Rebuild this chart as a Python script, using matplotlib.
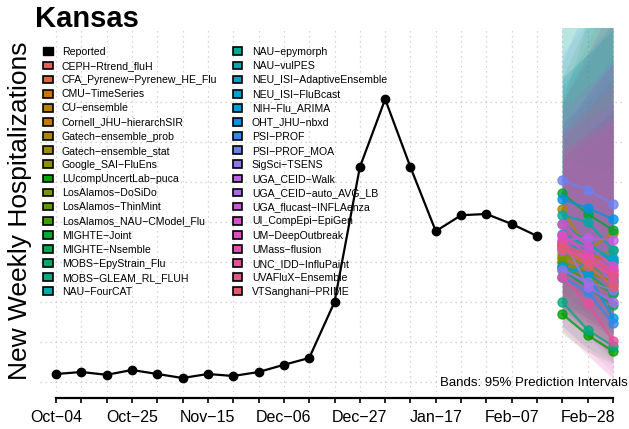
import numpy as np
import matplotlib
matplotlib.use("Agg")
import matplotlib.pyplot as plt
from matplotlib.patches import Patch
from matplotlib import rcParams

rcParams.update({
    "font.family": ["Liberation Sans", "DejaVu Sans"],
    "axes.unicode_minus": True,
})

# reported weekly hospitalizations (Oct-04 ... Feb-14)
reported = [20, 25, 18, 30, 20, 10, 20, 15, 25, 43, 60, 200, 537, 707, 537,
            377, 417, 420, 395, 365]
reported_weeks = list(range(len(reported)))
forecast_weeks = [20, 21, 22]

tick_weeks = [0, 3, 6, 9, 12, 15, 18, 21]
tick_labels = ["Oct\u221204", "Oct\u221225", "Nov\u221215", "Dec\u221206",
               "Dec\u221227", "Jan\u221217", "Feb\u221207", "Feb\u221228"]

models = [
    "CEPH-Rtrend_fluH", "CFA_Pyrenew-Pyrenew_HE_Flu", "CMU-TimeSeries",
    "CU-ensemble", "Cornell_JHU-hierarchSIR", "Gatech-ensemble_prob",
    "Gatech-ensemble_stat", "Google_SAI-FluEns", "LUcompUncertLab-puca",
    "LosAlamos-DoSiDo", "LosAlamos-ThinMint", "LosAlamos_NAU-CModel_Flu",
    "MIGHTE-Joint", "MIGHTE-Nsemble", "MOBS-EpyStrain_Flu",
    "MOBS-GLEAM_RL_FLUH", "NAU-FourCAT", "NAU-epymorph", "NAU-vulPES",
    "NEU_ISI-AdaptiveEnsemble", "NEU_ISI-FluBcast", "NIH-Flu_ARIMA",
    "OHT_JHU-nbxd", "PSI-PROF", "PSI-PROF_MOA", "SigSci-TSENS",
    "UGA_CEID-Walk", "UGA_CEID-auto_AVG_LB", "UGA_flucast-INFLAenza",
    "UI_CompEpi-EpiGen", "UM-DeepOutbreak", "UMass-flusion",
    "UNC_IDD-InfluPaint", "UVAFluX-Ensemble", "VTSanghani-PRIME",
]

# medians for the 3 forecast weeks, same order as models
median = [
    [330, 300, 270], [350, 310, 280], [340, 320, 300], [310, 280, 250],
    [300, 260, 230], [432, 330, 372], [312, 300, 330], [340, 290, 260],
    [170, 117, 77], [320, 290, 240], [300, 275, 250], [290, 255, 222],
    [472, 420, 380], [280, 237, 192], [287, 272, 222], [200, 130, 90],
    [417, 400, 330], [395, 350, 300], [370, 340, 310], [262, 300, 255],
    [345, 330, 305], [287, 270, 160], [457, 435, 407], [262, 225, 147],
    [505, 480, 445], [280, 250, 230], [355, 360, 355], [365, 237, 200],
    [330, 310, 250], [395, 340, 290], [367, 320, 280], [350, 310, 270],
    [262, 197, 102], [340, 300, 265], [335, 290, 240],
]
# 95% interval bounds
lower = [
    [200, 160, 120], [230, 170, 130], [250, 200, 160], [200, 150, 110],
    [180, 130, 90], [300, 210, 200], [220, 180, 180], [260, 200, 160],
    [120, 75, 45], [220, 170, 120], [200, 160, 120], [180, 140, 100],
    [340, 280, 230], [180, 130, 90], [190, 160, 110], [140, 85, 50],
    [300, 270, 200], [250, 200, 150], [200, 160, 120], [180, 180, 140],
    [250, 220, 190], [170, 130, 60], [330, 290, 250], [160, 120, 60],
    [350, 300, 260], [190, 150, 120], [250, 220, 190], [270, 150, 110],
    [220, 180, 130], [140, 80, 25], [125, 65, 10], [170, 110, 50],
    [130, 70, 5], [190, 130, 70], [180, 120, 60],
]
upper = [
    [620, 720, 820], [700, 820, 950], [560, 620, 680], [600, 700, 800],
    [720, 850, 980], [650, 700, 760], [520, 580, 640], [760, 900, 1050],
    [320, 300, 280], [600, 680, 760], [560, 620, 680], [700, 800, 900],
    [760, 820, 880], [1100, 1300, 1500], [700, 900, 1100], [420, 400, 380],
    [740, 820, 900], [1050, 1250, 1450], [800, 950, 1100], [520, 600, 680],
    [640, 720, 800], [1200, 1400, 1600], [760, 820, 880], [580, 640, 700],
    [820, 900, 980], [540, 600, 660], [700, 820, 940], [560, 540, 520],
    [640, 720, 800], [680, 740, 800], [620, 660, 700], [580, 620, 660],
    [560, 600, 640], [620, 680, 740], [580, 620, 660],
]


def hcl_to_hex(h, c, l):
    # polarLUV -> sRGB
    hr = np.deg2rad(h)
    u, v = c * np.cos(hr), c * np.sin(hr)
    xn, yn, zn = 95.047, 100.0, 108.883
    un = 4 * xn / (xn + 15 * yn + 3 * zn)
    vn = 9 * yn / (xn + 15 * yn + 3 * zn)
    y = yn * ((l + 16) / 116) ** 3 if l > 8 else yn * l / 903.3
    up = u / (13 * l) + un
    vp = v / (13 * l) + vn
    x = 9 * y * up / (4 * vp)
    z = y * (12 - 3 * up - 20 * vp) / (4 * vp)
    m = np.array([[3.2404542, -1.5371385, -0.4985314],
                  [-0.9692660, 1.8760108, 0.0415560],
                  [0.0556434, -0.2040259, 1.0572252]])
    rgb = m @ (np.array([x, y, z]) / 100)
    rgb = np.clip(rgb, 0, 1)
    rgb = np.where(rgb <= 0.0031308, 12.92 * rgb, 1.055 * rgb ** (1 / 2.4) - 0.055)
    return matplotlib.colors.to_hex(np.clip(rgb, 0, 1))


# hues handed out in case-insensitive order
order = sorted(models, key=str.lower)
hues = np.linspace(15, 375, len(models) + 1)[:-1]
colors = {m: hcl_to_hex(hues[order.index(m)], 95, 57) for m in models}

W, H = 629, 429
fig = plt.figure(figsize=(W / 100, H / 100), dpi=100)
ax = fig.add_axes([40 / W, (H - 392) / H, 585 / W, 364 / H])

px_week = 25.32
ax.set_xlim((40 - 56) / px_week, (625 - 56) / px_week)
ax.set_ylim(-25, 885)

# grid
for w in range(23):
    ax.axvline(w, color="#c8c8c8", lw=0.9, ls=(0, (1, 3)), zorder=0)
for g in range(0, 800, 100):
    ax.axhline(g, color="#c8c8c8", lw=0.9, ls=(0, (1, 3)), zorder=0)

# bands
for i, m in enumerate(models):
    ax.fill_between(forecast_weeks, lower[i], upper[i], color=colors[m],
                    alpha=0.1, lw=0, zorder=1)
# medians
for i, m in enumerate(models):
    ax.plot(forecast_weeks, median[i], "-o", color=colors[m], lw=1.6,
            ms=6.5, alpha=0.8, zorder=2)

ax.plot(reported_weeks, reported, "-o", color="black", lw=1.6, ms=6,
        zorder=3)

for s in ["top", "right", "left"]:
    ax.spines[s].set_visible(False)
ax.spines["bottom"].set_bounds(0, 22)
ax.spines["bottom"].set_position(("outward", 4.5))
ax.spines["bottom"].set_linewidth(1.6)
ax.set_yticks([])
ax.set_xticks(range(23))
ax.set_xticklabels([tick_labels[tick_weeks.index(w)] if w in tick_weeks else ""
                    for w in range(23)], fontsize=11.5)
ax.tick_params(axis="x", length=3.8, width=1.2, pad=5)

fig.text(35 / W, 1 - 27 / H, "Kansas", fontsize=21, fontweight="bold",
         va="baseline", ha="left")
fig.text(27 / W, 1 - 380 / H, "New Weekly Hospitalizations", fontsize=19,
         rotation=90, rotation_mode="anchor", ha="left", va="baseline")
fig.text(628 / W, 1 - 386 / H, "Bands: 95% Prediction Intervals",
         fontsize=9.5, ha="right", va="baseline")

handles = [Patch(facecolor="black", edgecolor="black", label="Reported")]
handles += [Patch(facecolor=colors[m], edgecolor="black", lw=1.2,
                  label=m.replace("-", "\u2212")) for m in models]
fig.legend(handles=handles, loc="upper left", ncol=2,
           bbox_to_anchor=(43 / W, 1 - 47 / H), frameon=False,
           fontsize=7.6, handlelength=0.9, handleheight=0.75,
           handletextpad=0.9, columnspacing=1.45, labelspacing=0.39,
           borderpad=0, borderaxespad=0)

fig.savefig("out.png", dpi=100)
